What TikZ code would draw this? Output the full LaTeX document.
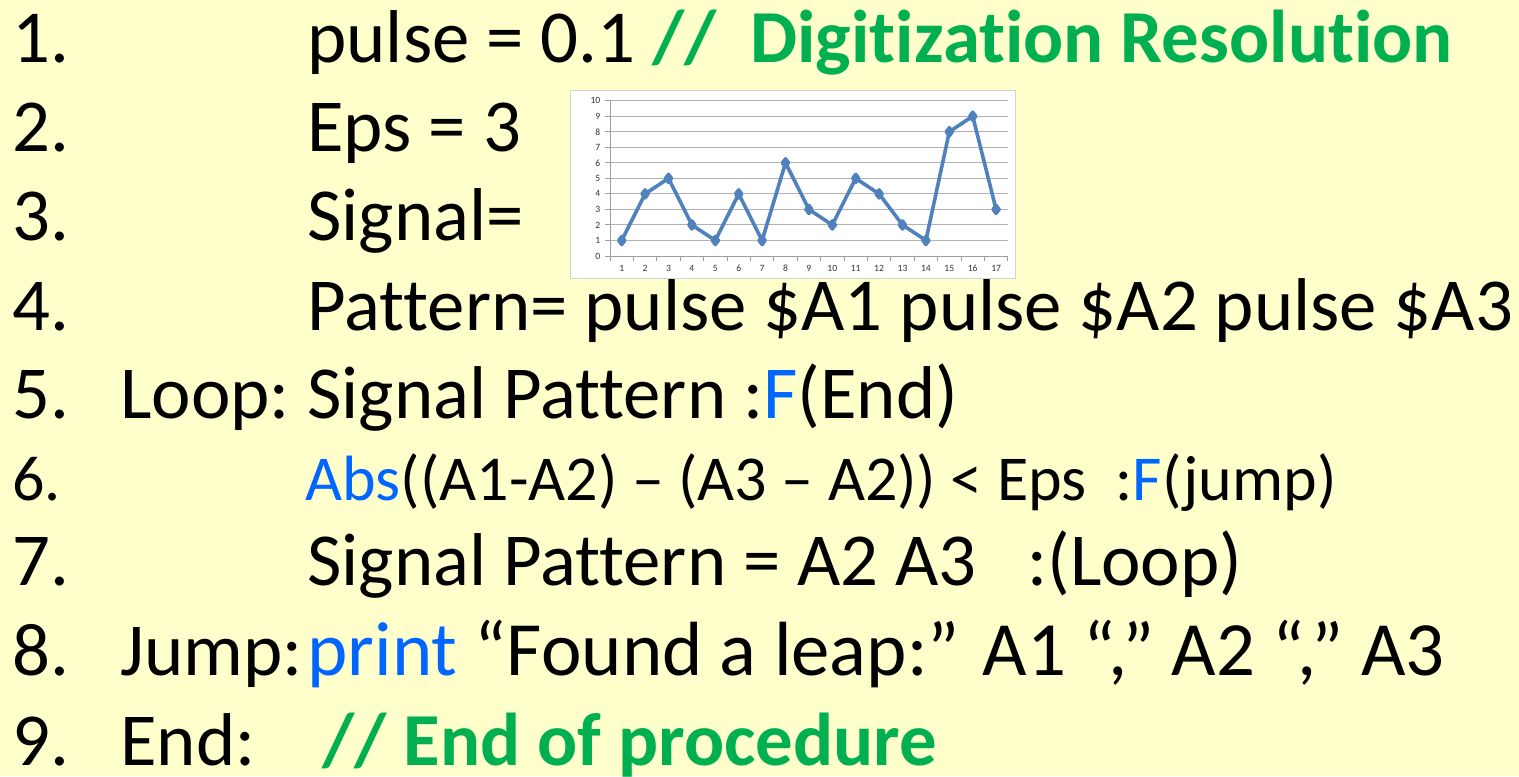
\documentclass[tikz,border=0pt]{standalone}
\usepackage{fontspec}
\setmainfont{Carlito}[Ligatures={NoCommon},RawFeature={-liga;-clig}]
\usetikzlibrary{plotmarks}
\definecolor{paper}{HTML}{FFFFCC}
\definecolor{codegreen}{HTML}{00B050}
\definecolor{codeblue}{HTML}{0066FF}
\definecolor{sigblue}{HTML}{4F81BD}
\newcommand{\kw}[1]{\textcolor{codeblue}{#1}}
\newcommand{\rem}[1]{\textcolor{codegreen}{\bfseries #1}}

\begin{document}
\begin{tikzpicture}[x=0.5pt,y=-0.5pt,
  code/.style={anchor=base west,inner sep=0pt,font=\fontsize{37.4}{44}\selectfont},
  codesmall/.style={code,font=\fontsize{32}{38}\selectfont},
  codebig/.style={code,font=\fontsize{38.4}{46}\selectfont},
  chartbox/.style={draw=gray!35,fill=white,anchor=north west,inner sep=0pt,
    minimum width=222.5pt,minimum height=94pt},
  gridline/.style={gray!60,line width=0.5pt},
  axisline/.style={gray!75,line width=0.5pt},
  ticklab/.style={inner sep=0pt,text=gray!40!black,font=\fontsize{4.8}{5}\selectfont},
  sigline/.style={sigblue,line width=1.8pt,line join=round,
    mark options={fill=sigblue,draw=sigblue,mark size=2pt}}]
\useasboundingbox[fill=paper] (0,0) rectangle (1519,776);
% line numbers
\foreach \k/\yb in {1/62,2/151,3/240,4/330,5/418,7/585,8/675,9/765}
  \node[code] (num\k) at (12,\yb) {\k.};
\node[codesmall] (num6) at (12,500) {6.};
% labels
\node[code] (lab5) at (120,418) {Loop:};
\node[code] (lab8) at (120,675) {Jump:};
\node[code] (lab9) at (120,765) {End:};
% statements
\node[code] (ln1) at (307,62) {pulse = 0.1 \rem{//\ \ Digitization Resolution}};
\node[code] (ln2) at (307,151) {Eps = 3};
\node[code] (ln3) at (307,240) {Signal=};
\node[code] (ln4) at (307,330) {Pattern= pulse \$A1 pulse \$A2 pulse \$A3};
\node[code] (ln5) at (307,418) {Signal Pattern :\kw{F}(End)};
\node[codesmall] (ln6) at (305,500) {\kw{Abs}((A1-A2) – (A3 – A2)) < Eps\ \ :\kw{F}(jump)};
\node[code] (ln7) at (307,585) {Signal Pattern = A2 A3\ \ \ :(Loop)};
\node[codebig] (ln8) at (307,675) {\kw{print} “Found a leap:” A1 “,” A2 “,” A3};
\node[code] (ln9) at (322,765) {\rem{//\ End of procedure}};
% signal chart
\node[chartbox] (chart) at (570,90) {};
\begin{scope}[shift={(610,256)},x=11.7pt,y=7.765pt]
  \foreach \v in {1,...,10} \draw[gridline] (0,\v) -- (17,\v);
  \draw[axisline] (0,0) -- (0,10);
  \draw[axisline] (0,0) -- (17,0);
  \foreach \v in {0,...,10} {
    \draw[axisline] (-0.2,\v) -- (0,\v);
    \node[ticklab,anchor=east] at (-0.4,\v) {\v};}
  \foreach \i in {0,...,17} \draw[axisline] (\i,0) -- (\i,-0.3);
  \foreach \i in {1,...,17} \node[ticklab] at (\i-0.5,-0.8) {\i};
  \draw[sigline] plot[mark=diamond*] coordinates {(0.5,1) (1.5,4) (2.5,5) (3.5,2)
    (4.5,1) (5.5,4) (6.5,1) (7.5,6) (8.5,3) (9.5,2) (10.5,5) (11.5,4) (12.5,2)
    (13.5,1) (14.5,8) (15.5,9) (16.5,3)};
\end{scope}
\end{tikzpicture}
\end{document}
